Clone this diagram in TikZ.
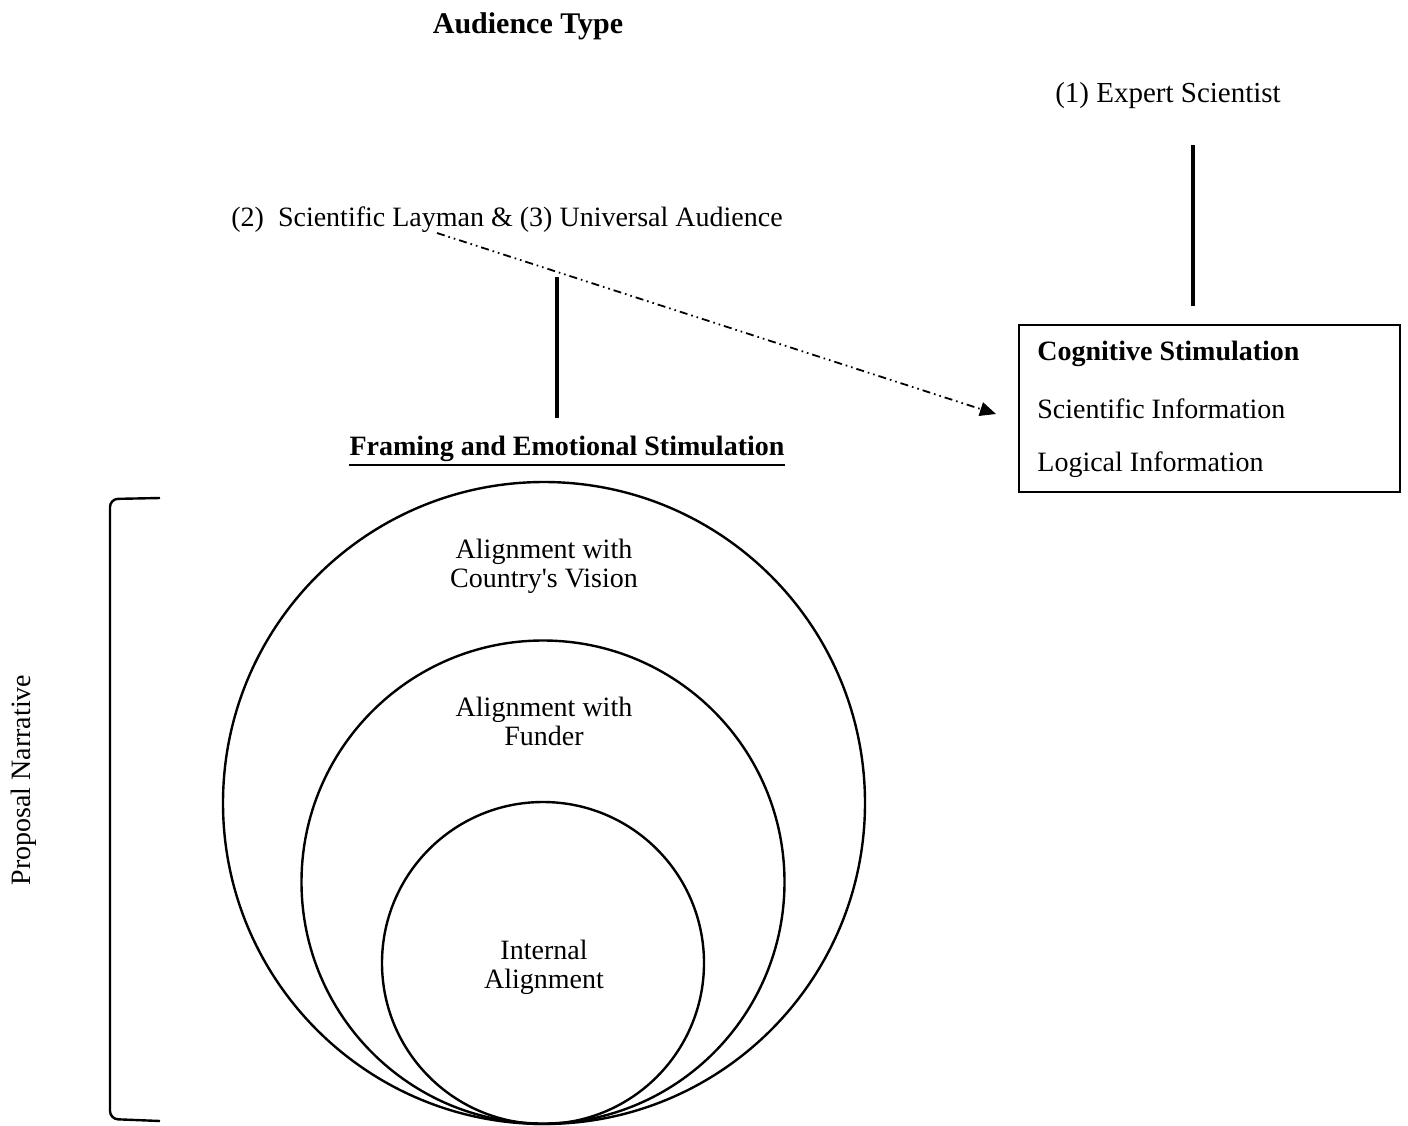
\documentclass[tikz,border=0pt]{standalone}
\usepackage{fontspec}
\setmainfont{Liberation Serif}
\usetikzlibrary{arrows.meta}
\begin{document}
\begin{tikzpicture}[x=0.5pt,y=-0.5pt,
  txt/.style={inner sep=0pt, font=\fontsize{14}{14.5}\selectfont, align=center},
  bigtxt/.style={inner sep=0pt, font=\fontsize{15}{16}\selectfont},
  ring/.style={circle, draw, line width=1.2pt, inner sep=0pt},
  link/.style={line width=1.6pt},
  dashlink/.style={line width=0.9pt, dash pattern=on 4pt off 2pt on 0.8pt off 2pt on 0.8pt off 2pt,
    -{Triangle[length=8pt,width=7pt]}},
  boxline/.style={txt, anchor=west}
]
\useasboundingbox (0,0) rectangle (1408,1125);
\fill[white] (0,0) rectangle (1408,1125);

% headings
\node[bigtxt, font=\fontsize{15}{16}\selectfont\bfseries] (head) at (528,26) {Audience Type};
\node[bigtxt, font=\fontsize{14.5}{15}\selectfont] (expert) at (1168,96) {(1) Expert Scientist};
\node[txt] (lay) at (507,220) {(2)\ \ Scientific Layman \& (3) Universal Audience};

% cognitive stimulation box
\node[draw, line width=0.9pt, minimum width=190.5pt, minimum height=83.5pt, inner sep=0pt] (cog) at (1209.5,408.5) {};
\node[boxline, font=\fontsize{14}{14.5}\selectfont\bfseries] (cogt) at (1037,354) {Cognitive Stimulation};
\node[boxline] (sci) at (1037,409) {Scientific Information};
\node[boxline] (logi) at (1037,465) {Logical Information};

% framing heading with underline
\node[txt, font=\fontsize{14}{14.5}\selectfont\bfseries] (frame) at (567,449) {Framing and Emotional Stimulation};
\draw[line width=1.1pt] ([yshift=-1.4pt]frame.south west) -- ([yshift=-1.4pt]frame.south east);

% connectors
\coordinate (e1) at (1193,145);
\coordinate (e2) at (1193,306);
\draw[link] (e1) -- (e2);
\coordinate (v1) at (557,277);
\coordinate (v2) at (557,418);
\draw[link] (v1) -- (v2);
\coordinate (d1) at (437,233);
\coordinate (d2) at (996,414);
\draw[dashlink] (d1) -- (d2);

% nested circles
\node[ring, minimum size=321pt] (outer) at (544,803) {};
\node[ring, minimum size=241.5pt] (middle) at (543,882) {};
\node[ring, minimum size=161pt] (inner) at (543,963) {};

\node[txt] (lc) at (544,566) {Alignment with\\Country\textquotesingle s Vision};
\node[txt] (lf) at (544,721) {Alignment with\\Funder};
\node[txt] (li) at (544,967) {Internal\\Alignment};

% bracket
\draw[line width=1.2pt, rounded corners=4pt] (160,498) -- (110,499) -- (110,1119) -- (160,1121);
\node[txt, rotate=90] (prop) at (24,780) {Proposal Narrative};
\end{tikzpicture}
\end{document}
